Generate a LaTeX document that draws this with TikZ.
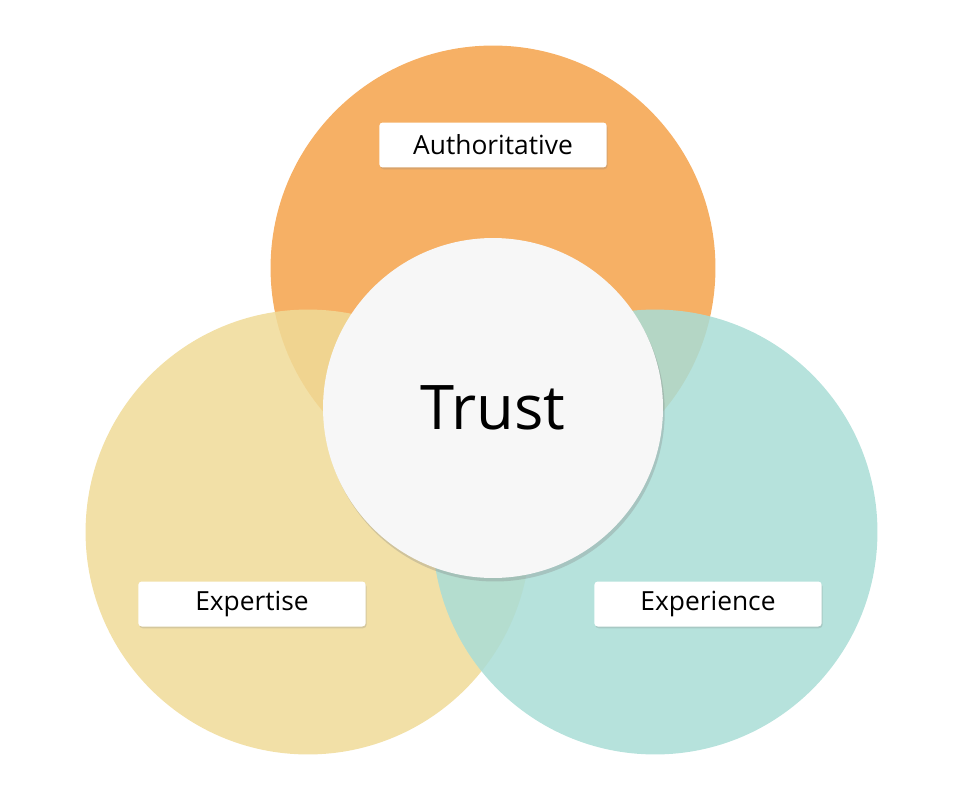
\documentclass[tikz,border=0pt]{standalone}
\usepackage{fontspec}
\setmainfont{Open Sans}
\usetikzlibrary{shadows}
\definecolor{authcol}{HTML}{F5A24A}
\definecolor{expcol}{HTML}{F0DB98}
\definecolor{experiencecol}{HTML}{A9DDD6}
\tikzset{
  petal/.style={circle, minimum size=8.9cm, inner sep=0pt, fill opacity=0.85},
  tag/.style={fill=white, rounded corners=2pt, minimum height=0.9cm, font=\fontsize{15}{18}\selectfont,
    drop shadow={shadow xshift=0.5pt, shadow yshift=-1pt, opacity=0.25}},
}
\begin{document}
\begin{tikzpicture}[x=0.02cm, y=-0.02cm]
        \useasboundingbox (0,0) rectangle (962,800);
        \node[petal, fill=authcol] (auth) at (493,268) {};
        \node[petal, fill=expcol] (expt) at (308,532) {};
        \node[petal, fill=experiencecol] (expr) at (655,532) {};

        \node[circle, fill=white!97!black, minimum size=6.8cm,
          drop shadow={shadow xshift=1pt, shadow yshift=-2pt, opacity=0.3},
          font=\fontsize{35}{40}\selectfont] (trust) at (493,408) {Trust};

        \node[tag, minimum width=4.55cm] (authlbl) at (493,145) {Authoritative};
        \node[tag, minimum width=4.55cm] (exptlbl) at (252,604) {Expertise};
        \node[tag, minimum width=4.55cm] (exprlbl) at (708,604) {Experience};
    \end{tikzpicture}
\end{document}
